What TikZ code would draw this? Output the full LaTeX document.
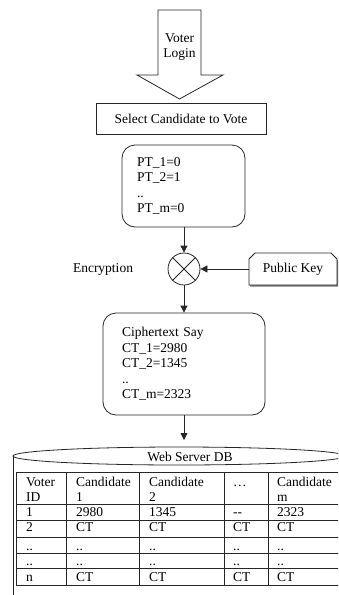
\documentclass[tikz,border=0pt]{standalone}
\usepackage{fontspec}
\setmainfont{Liberation Serif}
\usetikzlibrary{arrows.meta,positioning,shapes.misc,shadows}

\tikzset{
	line/.style={draw=black!85,line width=0.8pt},
	flow/.style={line,-{Triangle[length=7pt,width=7pt]}},
	plainbox/.style={line,minimum width=170pt,minimum height=31pt},
	roundbox/.style={line,rounded corners=13pt,align=left,inner ysep=0pt},
	keybox/.style={line,fill=white,chamfered rectangle,
		chamfered rectangle corners={north west,north east},
		chamfered rectangle xsep=3pt,chamfered rectangle ysep=3pt,
		minimum width=88pt,minimum height=32pt,
		drop shadow={shadow xshift=1.2pt,shadow yshift=-1.5pt,fill=black!55,opacity=1}},
	cell/.style={anchor=base west,inner sep=0pt},
}

\begin{document}
\begin{tikzpicture}[x=1pt,y=-1pt,font=\fontsize{13.5}{15.5}\selectfont]
	\clip (0,0) rectangle (338,595);
	\useasboundingbox (0,0) rectangle (338,595);

	% voter login arrow
	\draw [line] (158,10) -- (201,10) -- (201,75) -- (223,75) -- (179.5,99)
		-- (137,75) -- (158,75) -- cycle;
	\node [align=center] (Login) at (179.5,47) {Voter\\Login};

	\node [plainbox] (Select) at (181,118.5) {Select Candidate to Vote};

	\node [roundbox,text width=93pt,minimum height=82pt,inner xsep=15pt] (Plain)
		at (183.5,186) {PT\_1=0\\PT\_2=1\\..\\PT\_m=0};

	% encryption
	\node [circle,line,minimum size=32pt,inner sep=0pt] (Enc) at (184,269) {};
	\draw [line] (Enc.north west) -- (Enc.south east)
		(Enc.north east) -- (Enc.south west);
	\node (EncLabel) at (103,269) {Encryption};
	\node [keybox] (Key) at (293,269) {Public Key};

	\node [roundbox,text width=124pt,minimum height=102pt,inner xsep=19pt] (Cipher)
		at (184,364) {Ciphertext Say\\CT\_1=2980\\CT\_2=1345\\..\\CT\_m=2323};

	\coordinate (DBIn) at (184,440);
	\draw [flow] (Enc.north |- Plain.south) -- (Enc.north);
	\draw [flow] (Key.west) -- (Enc.east);
	\draw [flow] (Enc.south) -- (Enc.south |- Cipher.north);
	\draw [flow] (DBIn |- Cipher.south) -- (DBIn);

	% database
	\draw [line] (179,456) ellipse [x radius=166pt,y radius=9pt];
	\draw [line] (13,456) -- (13,600);
	\draw [line] (345,456) -- (345,600);
	\node (DBTitle) at (190,457) {Web Server DB};

	\foreach \x in {16,66,139,224,268}
		\draw [line] (\x,472) -- (\x,585);
	\foreach \y in {472,504,520,537,553,568,585}
		\draw [line] (16,\y) -- (345,\y);

	\foreach \x/\ha/\hb [count=\k] in {26/Voter/ID,76/Candidate/1,149/Candidate/2,233/\ldots/{},277/Candidate/m} {
		\node [cell] (Head\k) at (\x,486) {\ha};
		\node [cell] (Sub\k) at (\x,501) {\hb};
	}
	\foreach \y/\id/\ca/\cb/\cd/\cm [count=\r] in {516/1/2980/1345/{-{}-}/2323,531/2/CT/CT/CT/CT,550/{..}/{..}/{..}/{..}/{..},565/{..}/{..}/{..}/{..}/{..},581/n/CT/CT/CT/CT} {
		\node [cell] (Row\r-1) at (26,\y) {\id};
		\node [cell] (Row\r-2) at (76,\y) {\ca};
		\node [cell] (Row\r-3) at (149,\y) {\cb};
		\node [cell] (Row\r-4) at (233,\y) {\cd};
		\node [cell] (Row\r-5) at (277,\y) {\cm};
	}
\end{tikzpicture}
\end{document}
